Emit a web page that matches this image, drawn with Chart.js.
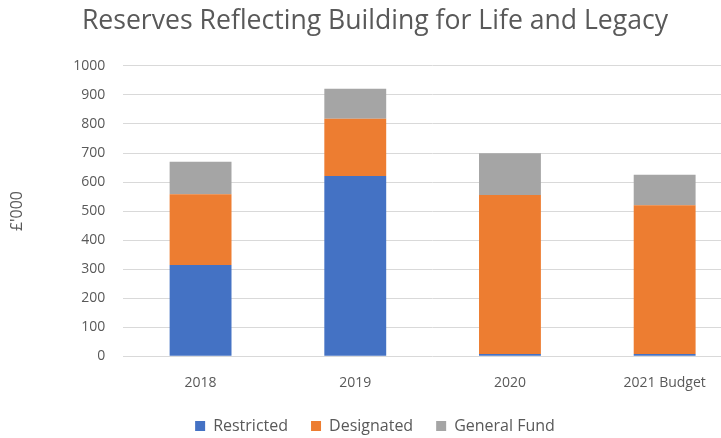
<!DOCTYPE html>
<html>
<head>
<meta charset="utf-8">
<script src="https://cdn.jsdelivr.net/npm/chart.js@4"></script>
<style>
  html, body { margin: 0; padding: 0; background: #fff; overflow: hidden; }
  #wrap { width: 742px; height: 438px; }
</style>
</head>
<body>
<div id="wrap"><canvas id="Chart"></canvas></div>
<script>
const categories = ['2018', '2019', '2020', '2021 Budget'];
const restricted = [314, 621, 8, 8];
const designated = [244, 197, 547, 512];
const generalFund = [112, 103, 144, 105];

const textColor = '#595959';
const fontFamily = "'Open Sans', sans-serif";

// keep the wide item spacing of the legend but a short legend box
const legendHeight = {
    id: 'legendHeight',
    beforeInit(chart) {
        const fit = chart.legend.fit;
        chart.legend.fit = function () {
            fit.bind(chart.legend)();
            this.height = 43;
        };
    }
};

const ctx = document.getElementById('Chart').getContext('2d');
new Chart(ctx, {
    type: 'bar',
    data: {
        labels: categories,
        datasets: [
            { label: 'Restricted', data: restricted, backgroundColor: '#4472C4' },
            { label: 'Designated', data: designated, backgroundColor: '#ED7D31' },
            { label: 'General Fund', data: generalFund, backgroundColor: '#A5A5A5' }
        ]
    },
    options: {
        responsive: true,
        maintainAspectRatio: false,
        animation: false,
        layout: { padding: { left: 8, right: 0, top: 0, bottom: 0 } },
        datasets: {
            bar: { categoryPercentage: 1, barPercentage: 0.4 }
        },
        scales: {
            x: {
                stacked: true,
                grid: { display: false },
                border: { display: false },
                ticks: { color: textColor, font: { family: fontFamily, size: 14 }, padding: 10 },
                afterFit: (scale) => { scale.height -= 6; }
            },
            y: {
                stacked: true,
                min: 0,
                max: 1000,
                ticks: {
                    stepSize: 100,
                    color: textColor,
                    font: { family: fontFamily, size: 14 },
                    padding: 18,
                    callback: (v) => String(v)
                },
                grid: { color: '#D9D9D9', lineWidth: 1, drawTicks: false },
                border: { display: false },
                title: {
                    display: true,
                    text: "£'000",
                    color: textColor,
                    font: { family: fontFamily, size: 16 },
                    padding: { top: 0, bottom: 28 }
                }
            }
        },
        plugins: {
            title: {
                display: true,
                text: 'Reserves Reflecting Building for Life and Legacy',
                color: textColor,
                font: { family: fontFamily, size: 26.6, weight: 'normal' },
                padding: { top: 5, bottom: 29 }
            },
            legend: {
                position: 'bottom',
                labels: {
                    color: textColor,
                    font: { family: fontFamily, size: 16 },
                    boxWidth: 10,
                    boxHeight: 10,
                    padding: 23
                }
            },
            tooltip: { enabled: false }
        }
    },
    plugins: [legendHeight]
});
</script>
</body>
</html>
